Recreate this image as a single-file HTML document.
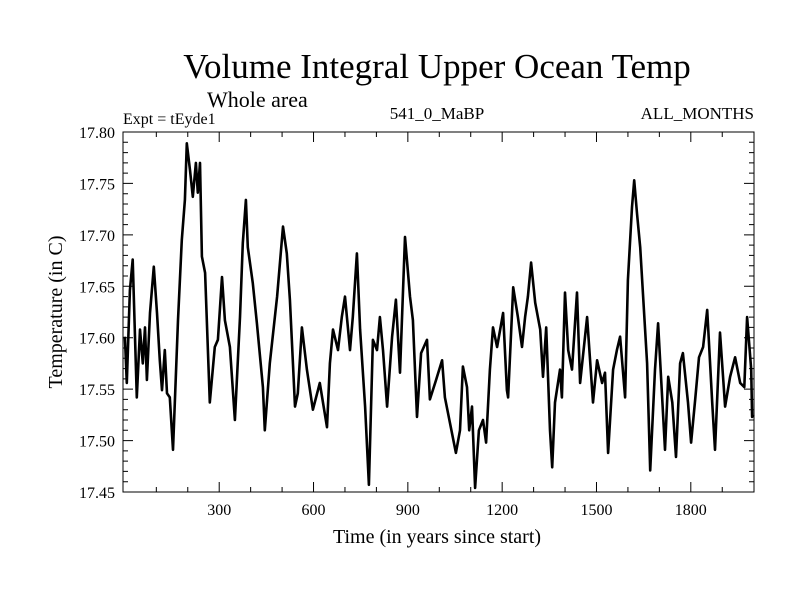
<!DOCTYPE html>
<html><head><meta charset="utf-8"><style>
html,body{margin:0;padding:0;background:#fff;}
svg{display:block;font-family:"Liberation Serif",serif;}
</style></head><body>
<svg id="chart" width="800" height="600">
<text x="437" y="78" font-size="35" text-anchor="middle">Volume Integral Upper Ocean Temp</text>
<text x="207" y="107" font-size="22">Whole area</text>
<text x="123" y="124" font-size="16">Expt = tEyde1</text>
<text x="437" y="119" font-size="17" text-anchor="middle">541_0_MaBP</text>
<text x="754" y="119" font-size="17" text-anchor="end">ALL_MONTHS</text>
<text x="437" y="543" font-size="20" text-anchor="middle">Time (in years since start)</text>
<text transform="translate(62,312) rotate(-90)" font-size="20" text-anchor="middle">Temperature (in C)</text>
<g id="ticks"></g>
<g id="labels"></g>
<path id="series" fill="none" stroke="#000" stroke-width="2.6" stroke-linejoin="round"/>
<rect x="123" y="132" width="631" height="360" fill="none" stroke="#000" stroke-width="1"/>
</svg>
<script>
const years=[0,6,16,25,38,48,57,64,70,80,92,102,111,118,127,134,143,153,169,181,191,197,207,216,226,232,239,245,255,270,286,296,309,318,334,350,366,375,385,391,407,420,439,445,461,484,503,515,525,541,550,563,579,598,620,643,652,662,678,690,700,716,725,738,748,764,776,789,802,811,821,834,850,862,875,891,907,916,929,942,961,970,990,1009,1018,1034,1053,1066,1075,1088,1095,1104,1114,1126,1139,1149,1161,1171,1184,1203,1215,1219,1235,1250,1263,1273,1282,1292,1305,1321,1330,1340,1352,1359,1368,1384,1390,1400,1410,1422,1438,1448,1470,1489,1502,1518,1527,1537,1553,1565,1575,1591,1600,1613,1620,1629,1639,1661,1671,1686,1696,1718,1728,1741,1753,1766,1775,1791,1801,1814,1826,1839,1852,1868,1877,1893,1909,1925,1941,1957,1970,1979,1992,1995,2000];
const temps=[17.601,17.556,17.646,17.676,17.542,17.608,17.575,17.610,17.559,17.624,17.669,17.624,17.578,17.549,17.588,17.546,17.542,17.491,17.617,17.695,17.734,17.789,17.763,17.737,17.770,17.741,17.770,17.679,17.663,17.537,17.591,17.598,17.659,17.617,17.591,17.520,17.620,17.692,17.734,17.688,17.653,17.614,17.552,17.510,17.575,17.640,17.708,17.682,17.637,17.533,17.546,17.610,17.569,17.530,17.556,17.513,17.575,17.608,17.588,17.620,17.640,17.588,17.620,17.682,17.608,17.533,17.457,17.598,17.588,17.620,17.588,17.533,17.601,17.637,17.566,17.698,17.640,17.617,17.523,17.585,17.598,17.540,17.559,17.578,17.542,17.517,17.488,17.510,17.572,17.552,17.510,17.533,17.454,17.510,17.520,17.498,17.569,17.610,17.591,17.624,17.549,17.542,17.649,17.620,17.591,17.620,17.640,17.673,17.634,17.608,17.562,17.610,17.510,17.474,17.537,17.569,17.542,17.644,17.588,17.569,17.644,17.556,17.620,17.537,17.578,17.556,17.566,17.488,17.569,17.588,17.601,17.542,17.656,17.727,17.753,17.721,17.688,17.575,17.471,17.569,17.614,17.491,17.562,17.537,17.484,17.575,17.585,17.537,17.498,17.540,17.581,17.591,17.627,17.537,17.491,17.605,17.533,17.562,17.581,17.556,17.552,17.620,17.569,17.523,17.525];
const xTickLabels=[300,600,900,1200,1500,1800];
const yTickLabels=["17.45","17.50","17.55","17.60","17.65","17.70","17.75","17.80"];

const X0=123,X1=754,Y0=492,Y1=132;
const xs=v=>X0+(v-(-6))/(2001-(-6))*(X1-X0);
const ys=v=>Y0-(v-17.45)/(0.35)*(Y0-Y1);
const NS="http://www.w3.org/2000/svg";
let d="";
years.forEach((yr,i)=>{d+=(i?"L":"M")+xs(yr).toFixed(1)+","+ys(temps[i]).toFixed(1);});
document.getElementById("series").setAttribute("d",d);

const tg=document.getElementById("ticks"), lg=document.getElementById("labels");
let td="";
for(let t=100;t<2000;t+=100){const x=xs(t),L=(t%300===0)?10:5;td+=`M${x},${Y0}v${-L}M${x},${Y1}v${L}`;}
for(let k=0;k<=35;k++){const v=17.45+k*0.01,y=ys(v),L=(k%5===0)?10:5;td+=`M${X0},${y}h${L}M${X1},${y}h${-L}`;}
const tp=document.createElementNS(NS,"path");
tp.setAttribute("d",td);tp.setAttribute("stroke","#000");tp.setAttribute("stroke-width","1");


tg.appendChild(tp);
xTickLabels.forEach(t=>{
  const e=document.createElementNS(NS,"text");
  e.setAttribute("x",xs(t));e.setAttribute("y",515);e.setAttribute("font-size","16");e.setAttribute("text-anchor","middle");
  e.textContent=t;
  
  
  lg.appendChild(e);
});
yTickLabels.forEach(t=>{
  const e=document.createElementNS(NS,"text");
  e.setAttribute("x",115);e.setAttribute("y",ys(parseFloat(t))+6);e.setAttribute("font-size","16");e.setAttribute("text-anchor","end");
  e.textContent=t;
  
  
  lg.appendChild(e);
});
</script>
</body></html>
